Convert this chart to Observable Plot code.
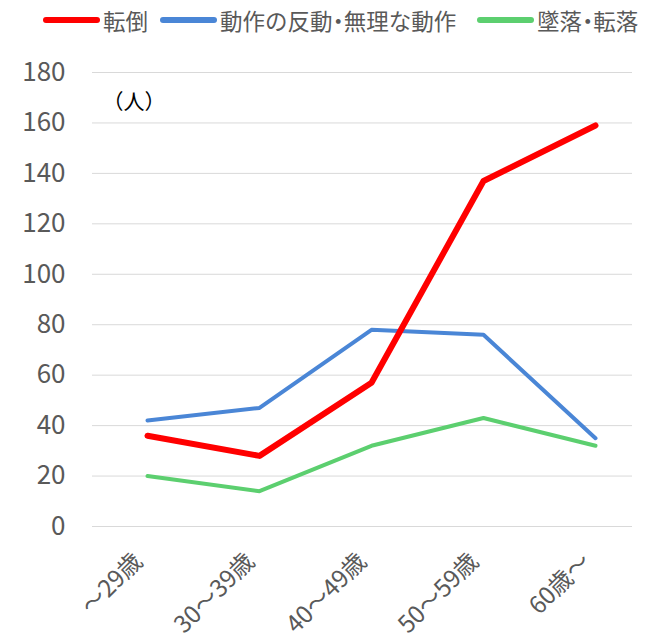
<!DOCTYPE html>
<html><head><meta charset="utf-8">
<script src="https://cdn.jsdelivr.net/npm/d3@7"></script>
<script src="https://cdn.jsdelivr.net/npm/@observablehq/plot@0.6"></script>
<style>
body{margin:0;background:#fff;font-family:"Noto Sans CJK JP","Noto Sans",sans-serif;}
#legend{height:40px;position:relative;font-size:22.5px;color:#595959;white-space:nowrap;}
.item{position:absolute;top:0;height:40px;display:flex;align-items:center;}
.sw{width:57px;height:6px;border-radius:3px;margin-right:3px;}
.txt{font-feature-settings:"palt" 0;}
.dot{font-feature-settings:"palt" 1;}
</style></head>
<body>
<div id="legend"></div>
<div id="chart"></div>
<script>
const categories = ["〜29歳","30〜39歳","40〜49歳","50〜59歳","60歳〜"];
const seriesNames = ["転倒","動作の反動・無理な動作","墜落・転落"];
const tentou = [36, 28, 57, 137, 159];
const dousa = [42, 47, 78, 76, 35];
const tsuiraku = [20, 14, 32, 43, 32];
const yTicks = [0,20,40,60,80,100,120,140,160,180];
const colors = ["#ff0000","#4a86d6","#5ccf6f"];
const widths = [6,4,4];
const legendX = [43,160,477];

const legend = document.getElementById("legend");
seriesNames.forEach((n,i)=>{
  const d=document.createElement("div");d.className="item";d.style.left=legendX[i]+"px";
  const s=document.createElement("div");s.className="sw";s.style.background=colors[i];
  d.appendChild(s);
  const t=document.createElement("span");t.className="txt";
  n.split("・").forEach((part,k)=>{
    if(k>0){const dot=document.createElement("span");dot.className="dot";dot.textContent="・";t.appendChild(dot);}
    t.appendChild(document.createTextNode(part));
  });
  d.appendChild(t);legend.appendChild(d);
});

const vals=[tentou,dousa,tsuiraku];
const data = [];
[1,2,0].forEach(si=>categories.forEach((c,j)=>data.push({series:seriesNames[si],cat:c,v:vals[si][j],si})));

const plot = Plot.plot({
  width:645, height:603,
  marginLeft:92, marginRight:13, marginTop:32, marginBottom:117,
  style:{fontFamily:'"Noto Sans CJK JP","Noto Sans",sans-serif', fontSize:"20px", color:"#595959"},
  x:{type:"point", domain:categories, range:[146,596], padding:0, label:null},
  y:{domain:[0,180], ticks:yTicks, label:null},
  marks:[
    Plot.gridY(yTicks,{stroke:"#d9d9d9", strokeOpacity:1, strokeWidth:1}),
    Plot.axisY(yTicks,{tickSize:0, tickPadding:27, fontSize:26, fill:"#595959"}),
    Plot.axisX({tickSize:0, tickRotate:-45, tickPadding:31, dx:-9, fontSize:24, fill:"#595959"}),
    ...[1,2,0].map(si=>Plot.line(data.filter(d=>d.si===si),{x:"cat",y:"v",stroke:colors[si],strokeWidth:widths[si],strokeLinejoin:"round",strokeLinecap:"round"})),
    Plot.text(["（人）"],{frameAnchor:"top-left",lineAnchor:"middle",dx:10,dy:30,fontSize:21,fill:"#000",textAnchor:"start"})
  ]
});
document.getElementById("chart").appendChild(plot);
</script>
</body></html>
